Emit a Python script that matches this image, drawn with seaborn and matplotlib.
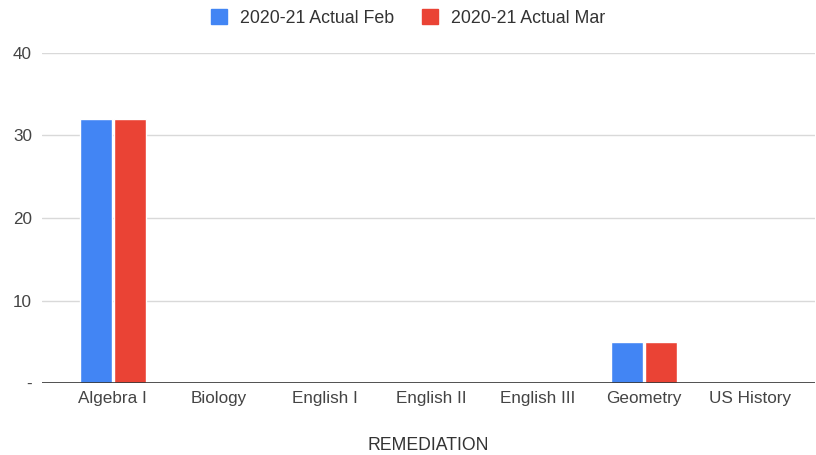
import pandas as pd
import seaborn as sns
from matplotlib import pyplot as plt

# Data
subjects = ['Algebra I', 'Biology', 'English I', 'English II', 'English III', 'Geometry', 'US History']
feb_values = [32, 0, 0, 0, 0, 5, 0]
mar_values = [32, 0, 0, 0, 0, 5, 0]
series_names = ['2020-21 Actual Feb', '2020-21 Actual Mar']
y_ticks = [0, 10, 20, 30, 40]
y_tick_labels = ['-', '10', '20', '30', '40']

df = pd.DataFrame({
    'subject': subjects * 2,
    'value': feb_values + mar_values,
    'series': [series_names[0]] * len(subjects) + [series_names[1]] * len(subjects),
})

sns.set_style('white')
plt.rcParams['font.family'] = ['Liberation Sans', 'DejaVu Sans']

fig = plt.figure(figsize=(8.16, 4.55), dpi=100)
ax = fig.add_axes([0.051, 0.158, 0.948, 0.726])

palette = {series_names[0]: '#4285F4', series_names[1]: '#EA4335'}
sns.barplot(data=df, x='subject', y='value', hue='series', palette=palette,
            width=0.64, gap=0.06, ax=ax, legend=False, saturation=1)

for y in y_ticks[1:]:
    ax.axhline(y, color='#d9d9d9', lw=1, zorder=0)
ax.axhline(0, color='#333333', lw=1.2, zorder=3)

ax.set_ylim(0, 40)
ax.set_xlim(-0.669, 6.61)
ax.set_yticks(y_ticks)
ax.set_yticklabels(y_tick_labels)
ax.tick_params(axis='both', length=0, labelsize=12.3, labelcolor='#444444')
ax.tick_params(axis='y', pad=7)
ax.tick_params(axis='x', pad=6)
for s in ax.spines.values():
    s.set_visible(False)

ax.set_xlabel('REMEDIATION', fontsize=12.7, color='#333333', labelpad=22)
ax.set_ylabel('')

handles = [plt.Rectangle((0, 0), 1, 1, color=palette[n]) for n in series_names]
fig.legend(handles, series_names, loc='upper center', bbox_to_anchor=(0.5, 1.015),
           ncol=2, frameon=False, fontsize=12.8, handlelength=0.9, handleheight=0.9,
           columnspacing=1.6, handletextpad=0.7, labelcolor='#333333')

plt.savefig('out.png', dpi=100)
